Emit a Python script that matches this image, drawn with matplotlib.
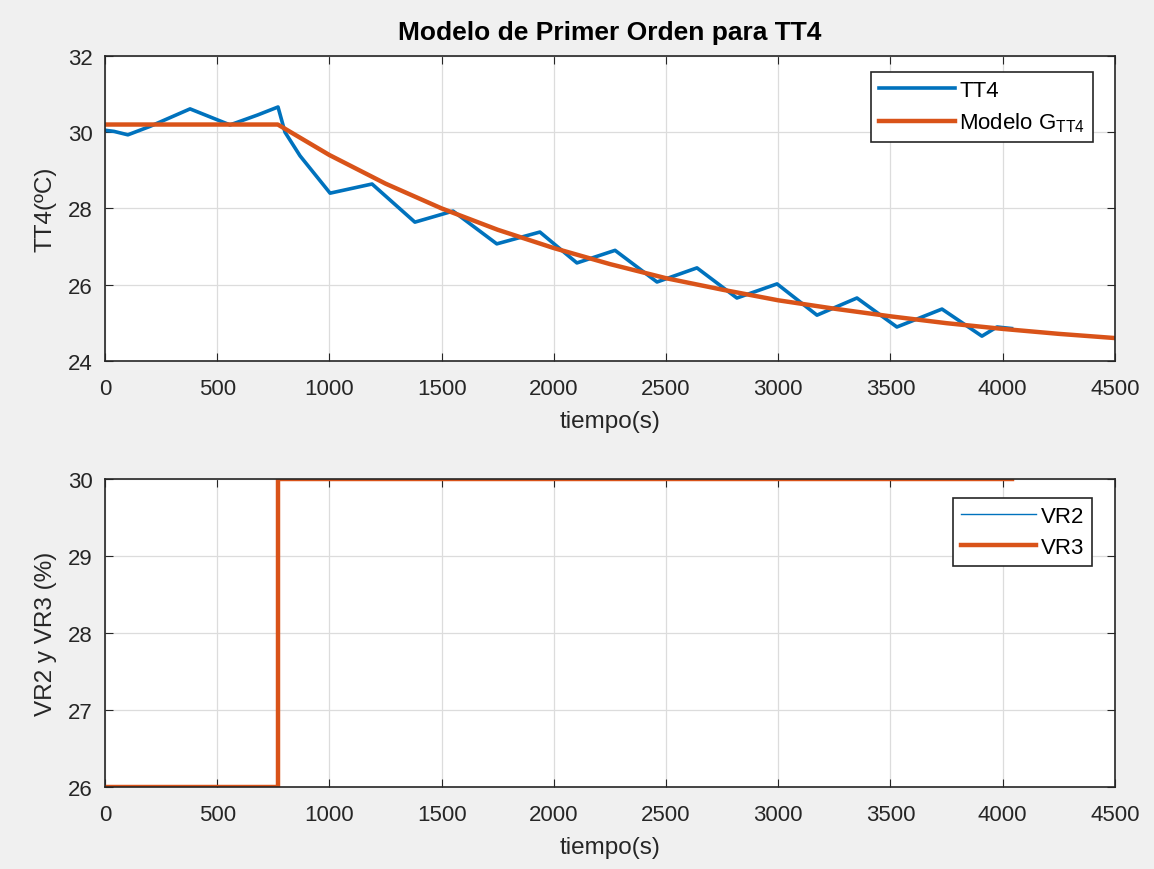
import matplotlib.pyplot as plt

plt.rcParams['font.family'] = ['Liberation Sans', 'DejaVu Sans']
plt.rcParams['mathtext.default'] = 'regular'

t_tt4 = [0, 40, 102, 200, 379, 557, 680, 771, 802, 869, 1003, 1190, 1381, 1551,
         1746, 1938, 2103, 2273, 2460, 2638, 2816, 2995, 3173, 3351, 3529,
         3730, 3908, 3975, 4040]
tt4 = [30.05, 30.02, 29.93, 30.15, 30.61, 30.19, 30.45, 30.66, 30.0, 29.38, 28.4,
       28.64, 27.64, 27.93, 27.07, 27.38, 26.57, 26.9, 26.07, 26.44, 25.65,
       26.02, 25.2, 25.65, 24.89, 25.36, 24.65, 24.89, 24.85]

# Modelo de primer orden
t_mod = [0, 770, 1000, 1250, 1500, 1750, 2000, 2250, 2500, 2750, 3000, 3250,
         3500, 3750, 4000, 4250, 4500]
modelo = [30.2, 30.2, 29.40, 28.65, 28.00, 27.44, 26.96, 26.54, 26.17, 25.87,
          25.59, 25.37, 25.17, 24.99, 24.84, 24.71, 24.60]

# Entradas VR2 y VR3 (escalon)
t_vr = [0, 770, 770, 4040]
vr2 = [26, 26, 30, 30]
vr3 = [26, 26, 30, 30]

azul = '#0072BD'
naranja = '#D95319'
gris = '#262626'

fig = plt.figure(figsize=(11.54, 8.7), dpi=100, facecolor='#f0f0f0')
ax1 = fig.add_axes([0.091, 0.584, 0.875, 0.3506])
ax2 = fig.add_axes([0.091, 0.0943, 0.875, 0.354])

ax1.plot(t_tt4, tt4, color=azul, lw=2.6, label='TT4')
ax1.plot(t_mod, modelo, color=naranja, lw=3.2, label='Modelo G$_{TT4}$')
ax1.set_xlim(0, 4500)
ax1.set_ylim(24, 32)
ax1.set_yticks([24, 26, 28, 30, 32])
ax1.set_xlabel('tiempo(s)')
ax1.set_ylabel('TT4(ºC)')
ax1.set_title('Modelo de Primer Orden para TT4', fontweight='bold',
              fontsize=19, pad=12, color='black')

ax2.plot(t_vr, vr2, color=azul, lw=1, label='VR2')
ax2.plot(t_vr, vr3, color=naranja, lw=3.2, label='VR3')
ax2.set_xlim(0, 4500)
ax2.set_ylim(26, 30)
ax2.set_yticks([26, 27, 28, 29, 30])
ax2.set_xlabel('tiempo(s)')
ax2.set_ylabel('VR2 y VR3 (%)')

for ax, anchor in ((ax1, (1 - 22 / 1010, 1 - 16 / 305)),
                   (ax2, (1 - 23 / 1010, 1 - 19 / 308))):
    ax.set_xticks(range(0, 4501, 500))
    ax.grid(True, color='#dcdcdc', lw=0.9)
    ax.set_axisbelow(True)
    ax.tick_params(direction='in', top=True, right=True, labelsize=16,
                   length=6, color=gris, labelcolor=gris)
    ax.tick_params(axis='x', pad=12)
    ax.tick_params(axis='y', pad=9)
    ax.xaxis.label.set_size(17.5)
    ax.yaxis.label.set_size(17.5)
    ax.xaxis.label.set_color(gris)
    ax.yaxis.label.set_color(gris)
    ax.xaxis.labelpad = 8
    ax.yaxis.labelpad = 8
    for s in ax.spines.values():
        s.set_color(gris)
        s.set_linewidth(1.2)
    leg = ax.legend(loc='upper right', bbox_to_anchor=anchor, borderaxespad=0,
                    fontsize=16, fancybox=False, edgecolor=gris, framealpha=1,
                    handlelength=3.4, handletextpad=0.2, borderpad=0.35,
                    labelspacing=0.45)
    leg.get_frame().set_linewidth(1.2)

fig.savefig('out.png', dpi=100, facecolor=fig.get_facecolor())
